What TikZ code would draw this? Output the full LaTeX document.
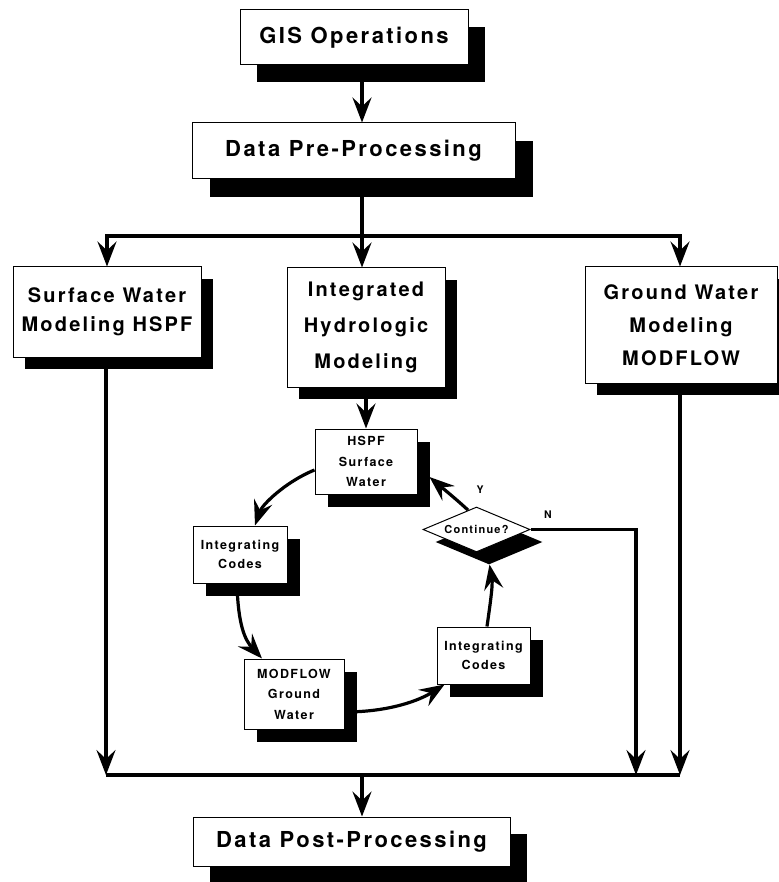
\documentclass[tikz,border=0pt]{standalone}
\usepackage{fontspec}
\setmainfont{TeX Gyre Heros}[LetterSpace=11]
\usetikzlibrary{shapes.geometric,shadows,arrows.meta}
\begin{document}
\begin{tikzpicture}[x=1pt,y=-1pt,
  >={Stealth[length=25pt,width=19pt,inset=9pt]},
  wire/.style={line width=3.2pt,line join=miter},
  box/.style={draw,line width=1pt,fill=white,rectangle,inner sep=0pt,align=center},
  shad/.style={drop shadow={shadow xshift=#1pt,shadow yshift=-#1pt,opacity=1,fill=black}},
  bigfont/.style={font=\fontsize{22}{26}\selectfont\bfseries},
  medfont/.style={font=\fontsize{20}{#1}\selectfont\bfseries},
  smallfont/.style={font=\fontsize{12.5}{#1}\selectfont\bfseries},
  lab/.style={font=\fontsize{10.5}{12}\selectfont\bfseries,inner sep=0pt}
]
\useasboundingbox (0,0) rectangle (778,882);

% main boxes
\node[box,shad=17,bigfont,minimum width=228pt,minimum height=55pt] (gis) at (354,37.5) {GIS Operations};
\node[box,shad=18,bigfont,minimum width=323pt,minimum height=56pt] (pre) at (353.5,151) {Data Pre-Processing};
\node[box,shad=12,medfont=29,minimum width=188pt,minimum height=90pt] (sw) at (107,312) {Surface Water\\Modeling HSPF};
\node[box,shad=12,medfont=36,minimum width=158pt,minimum height=119pt] (ihm) at (366,327.5) {Integrated\\Hydrologic\\Modeling};
\node[box,shad=12,medfont=33,minimum width=192pt,minimum height=116pt] (gw) at (681,325) {Ground Water\\Modeling\\MODFLOW};
\node[box,shad=17,bigfont,minimum width=317pt,minimum height=49pt] (post) at (351.5,841.5) {Data Post-Processing};

% inner loop
\node[box,shad=13,smallfont=20.5,minimum width=102pt,minimum height=65pt] (hspf) at (366,461.5) {HSPF\\Surface\\Water};
\node[box,shad=12.5,smallfont=19,minimum width=94pt,minimum height=57pt] (ic1) at (240,554.5) {Integrating\\Codes};
\node[box,shad=13,smallfont=20.5,minimum width=100pt,minimum height=70pt] (mod) at (294,694) {MODFLOW\\Ground\\Water};
\node[box,shad=13,smallfont=19,minimum width=93pt,minimum height=57pt] (ic2) at (483.5,655.5) {Integrating\\Codes};
\node[diamond,aspect=2.4,draw,line width=1pt,fill=white,inner sep=0pt,shad=12.5,
      minimum width=107pt,minimum height=45pt,font=\fontsize{11}{13}\selectfont\bfseries] (cont) at (476.5,529.5) {Continue?};

\node[lab] (ylab) at (480,490) {Y};
\node[lab] (nlab) at (548,515) {N};

% junction coordinates
\coordinate (bM) at (362,236);
\coordinate (bL) at (107,236);
\coordinate (bR) at (680,236);
\coordinate (dL) at (106,775);
\coordinate (dR) at (680,775);
\coordinate (dN) at (636,775);
\coordinate (dM) at (362,775);

% top connectors
\draw[wire,->] (gis.south -| bM) -- (pre.north -| bM);
\draw[wire,->] (pre.south -| bM) -- (ihm.north -| bM);
\draw[wire,<->] (sw.north -| bL) -- (bL) -- (bR) -- (gw.north -| bR);

% bottom connectors
\draw[wire,->] (sw.south -| dL) -- (dL);
\draw[wire,->] (gw.south -| dR) -- (dR);
\draw[wire,->] (cont.east) -| (dN);
\draw[wire] (dL) -- (dR);
\draw[wire,->] (dM) -- (post.north -| dM);

% inner loop connectors
\draw[wire,->] (ihm.south) -- (hspf.north);
\draw[wire,->] ([yshift=-8.5pt]hspf.west) .. controls (285,482) and (262,505) .. ([xshift=15pt]ic1.north);
\draw[wire,->] ([xshift=-3pt]ic1.south) .. controls (238,625) and (245,640) .. ([xshift=-32pt]mod.north);
\draw[wire,->] ([yshift=-18pt]mod.east) .. controls (390,712) and (420,700) .. ([xshift=8pt]ic2.south west);
\draw[wire,->] ([xshift=3.5pt]ic2.north) .. controls (490,605) and (493,585) .. ([xshift=13pt,yshift=-12pt]cont.south);
\draw[wire,->] ([xshift=-8.5pt,yshift=-3.6pt]cont.north) .. controls (455,498) and (440,486) .. ([xshift=12pt,yshift=-15.5pt]hspf.east);
\end{tikzpicture}
\end{document}
